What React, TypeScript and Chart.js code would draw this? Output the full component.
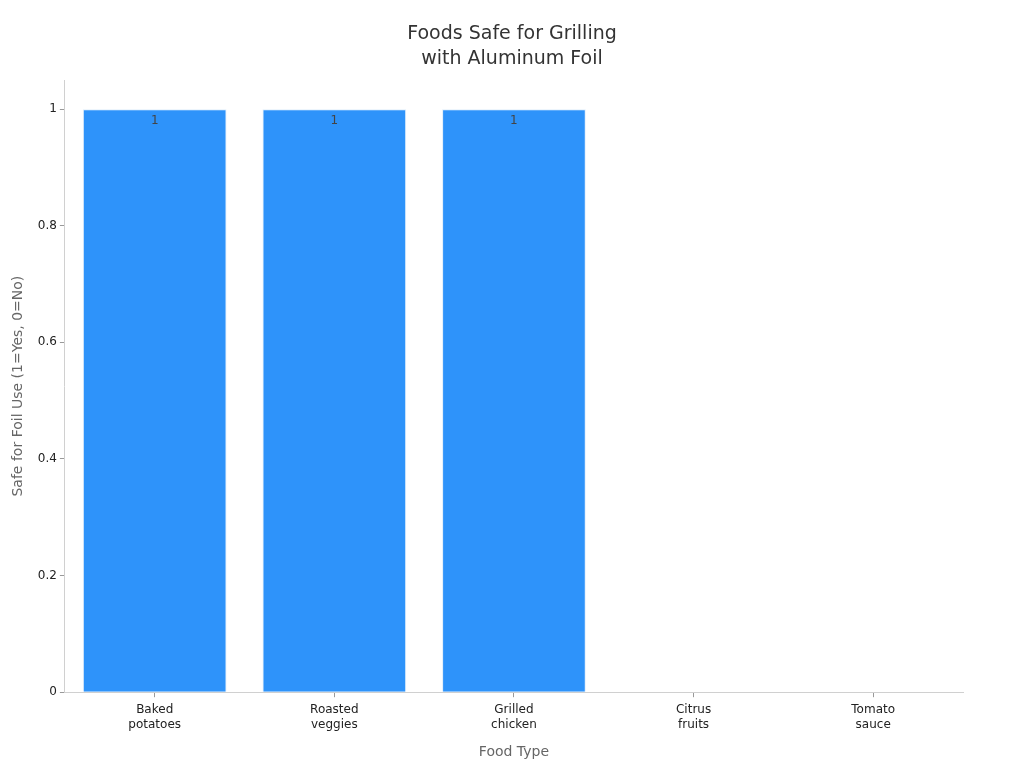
import { useEffect, useRef } from 'react';
import { Chart, registerables } from 'chart.js';

Chart.register(...registerables);

const foods = [['Baked', 'potatoes'], ['Roasted', 'veggies'], ['Grilled', 'chicken'], ['Citrus', 'fruits'], ['Tomato', 'sauce']];
const safeValues = [1, 1, 1, 0, 0];
const yTicks = [0, 0.2, 0.4, 0.6, 0.8, 1];
const titleLines = ['Foods Safe for Grilling', 'with Aluminum Foil'];

const FONT = "'DejaVu Sans', sans-serif";

// value just inside the top of each non-zero bar
const barValueLabels = {
  id: 'barValueLabels',
  afterDatasetsDraw(chart: Chart) {
    const ctx = chart.ctx;
    const meta = chart.getDatasetMeta(0);
    ctx.save();
    ctx.font = `12px ${FONT}`;
    ctx.fillStyle = '#444';
    ctx.textAlign = 'center';
    ctx.textBaseline = 'top';
    meta.data.forEach((bar: any, i: number) => {
      const v = safeValues[i];
      if (!v) return;
      ctx.fillText(String(v), bar.x, bar.y + 6);
    });
    ctx.restore();
  },
};

// title centred on the whole canvas, not the chart area
const centredTitle = {
  id: 'centredTitle',
  afterDraw(chart: Chart) {
    const ctx = chart.ctx;
    ctx.save();
    ctx.font = `19px ${FONT}`;
    ctx.fillStyle = '#333';
    ctx.textAlign = 'center';
    ctx.textBaseline = 'middle';
    titleLines.forEach((line, i) => {
      ctx.fillText(line, chart.width / 2, 34 + i * 25);
    });
    ctx.restore();
  },
};

export default function App() {
  const chartRef = useRef<HTMLCanvasElement>(null);
  const chartInstance = useRef<Chart | null>(null);

  useEffect(() => {
    if (!chartRef.current) return;
    if (chartInstance.current) chartInstance.current.destroy();

    const ctx = chartRef.current.getContext('2d');
    if (!ctx) return;

    chartInstance.current = new Chart(ctx, {
      type: 'bar',
      data: {
        labels: foods,
        datasets: [
          {
            label: 'Safe for Foil Use',
            data: safeValues,
            backgroundColor: '#2E93FA',
            borderColor: 'rgba(220, 235, 250, 0.9)',
            borderWidth: 1,
            barPercentage: 0.8,
            categoryPercentage: 1,
          },
        ],
      },
      options: {
        responsive: true,
        maintainAspectRatio: false,
        animation: false,
        layout: { padding: { top: 80, right: 61, bottom: 3, left: 6 } },
        plugins: {
          legend: { display: false },
          tooltip: { enabled: false },
          title: { display: false },
        },
        scales: {
          x: {
            grid: { offset: false, drawOnChartArea: false, drawTicks: true, tickLength: 5, tickColor: '#999' },
            border: { color: '#d0d0d0' },
            ticks: { color: '#222', font: { family: FONT, size: 12, lineHeight: 1.25 }, maxRotation: 0, padding: 5 },
            title: {
              display: true,
              text: 'Food Type',
              color: '#666',
              font: { family: FONT, size: 14 },
              padding: { top: 7 },
            },
          },
          y: {
            min: 0,
            max: 1.05,
            afterBuildTicks: (axis: any) => {
              axis.ticks = yTicks.map((v) => ({ value: v }));
            },
            grid: { drawOnChartArea: false, drawTicks: true, tickLength: 5, tickColor: '#999' },
            border: { color: '#d0d0d0' },
            ticks: {
              color: '#222',
              font: { family: FONT, size: 12 },
              padding: 3,
              callback: (v: any) => String(Number(v)),
            },
            title: {
              display: true,
              text: 'Safe for Foil Use (1=Yes, 0=No)',
              color: '#666',
              font: { family: FONT, size: 14 },
              padding: { bottom: 8 },
            },
          },
        },
      },
      plugins: [barValueLabels, centredTitle],
    });

    return () => {
      if (chartInstance.current) {
        chartInstance.current.destroy();
        chartInstance.current = null;
      }
    };
  }, []);

  return (
    <div style={{ position: 'absolute', left: 0, top: 0, width: 1024, height: 768, background: '#fff' }}>
      <canvas ref={chartRef} />
    </div>
  );
}
